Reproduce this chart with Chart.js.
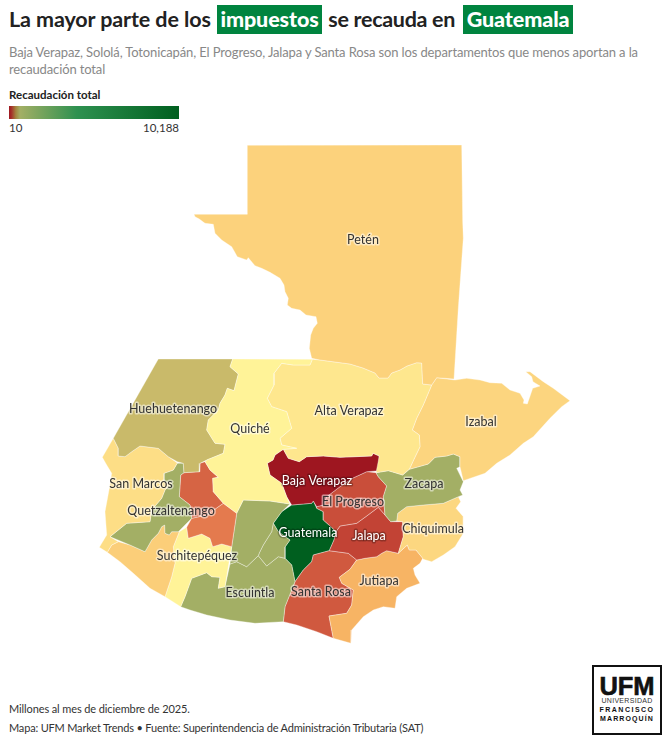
<!DOCTYPE html>
<html lang="es">
<head>
<meta charset="utf-8">
<title>Recaudación por departamento</title>
<script src="https://cdn.jsdelivr.net/npm/chart.js@4"></script>
<style>
html, body { margin: 0; padding: 0; background: #fff; }
body { position: relative; width: 670px; height: 744px; overflow: hidden; font-family: Lato, "Noto Sans", sans-serif; color: #333; }
.txt { position: absolute; white-space: nowrap; }
#title { left: 9px; top: 5px; height: 29px; line-height: 29px; font-size: 21.5px; font-weight: 700; color: #222; letter-spacing: -0.1px; }
#title b { background: #00843f; color: #fff; padding: 0 3.5px; margin: 0 1px 0 3px; display: inline-block; }
#title b:first-of-type { margin-left: 1px; }
#title span { letter-spacing: -0.3px; }
#sub1, #sub2 { left: 9px; font-size: 13px; color: #888; letter-spacing: -0.13px; }
#sub1 { top: 44px; } #sub2 { top: 61px; }
#legTitle { left: 9px; top: 88px; font-size: 11.5px; font-weight: 700; color: #222; }
#legBar { position: absolute; left: 9px; top: 106px; width: 170px; height: 13px; }
#legMin { left: 9px; top: 121px; font-size: 11.5px; }
#legMax { right: 491px; top: 121px; font-size: 11.5px; }
#note1 { left: 9px; top: 702px; font-size: 11px; letter-spacing: -0.11px; }
#note2 { left: 9px; top: 721px; font-size: 11px; letter-spacing: -0.18px; }
#map { position: absolute; left: 0; top: 130px; }
#logo { position: absolute; left: 592px; top: 665px; width: 66px; height: 66px; border: 2px solid #111; background: #fff; text-align: center; color: #111; font-family: "Liberation Sans", sans-serif; }
#logo .u { font-size: 25.5px; font-weight: 700; line-height: 20px; margin-top: 9px; -webkit-text-stroke: 0.6px #111; }
#logo .l { font-size: 7px; line-height: 9px; letter-spacing: 0.3px; color: #333; }
#logo .f { font-size: 7px; line-height: 9px; font-weight: 700; letter-spacing: 1.5px; }
#logo .m { font-size: 7px; line-height: 9px; font-weight: 700; letter-spacing: 1.1px; }
</style>
</head>
<body>
<div id="title" class="txt">La mayor parte de los <b>impuestos</b> <span>se recauda en</span> <b>Guatemala</b></div>
<div id="sub1" class="txt">Baja Verapaz, Sololá, Totonicapán, El Progreso, Jalapa y Santa Rosa son los departamentos que menos aportan a la</div>
<div id="sub2" class="txt">recaudación total</div>
<div id="legTitle" class="txt">Recaudación total</div>
<div id="legBar"></div>
<div id="legMin" class="txt">10</div>
<div id="legMax" class="txt">10,188</div>
<canvas id="map" width="670" height="530"></canvas>
<div id="note1" class="txt">Millones al mes de diciembre de 2025.</div>
<div id="note2" class="txt">Mapa: UFM Market Trends • Fuente: Superintendencia de Administración Tributaria (SAT)</div>
<div id="logo"><div class="u">UFM</div><div class="l">UNIVERSIDAD</div><div class="f">FRANCISCO</div><div class="m">MARROQUÍN</div></div>

<script>
// departamentos y recaudacion (valores estimados del color del mapa)
var departamentos = ["Petén","Quiché","Alta Verapaz","Izabal","Huehuetenango","San Marcos","Quetzaltenango","Totonicapán","Sololá","Retalhuleu","Suchitepéquez","Chimaltenango","Sacatepéquez","Escuintla","Zacapa","Chiquimula","Baja Verapaz","El Progreso","Jalapa","Jutiapa","Santa Rosa","Guatemala"];
var recaudacion = [200,310,270,210,420,240,660,70,90,190,310,660,660,660,660,215,10,50,40,130,60,10188];

// escala de color: valor -> color
var escalaValores = [10,40,90,130,200,310,420,660,4080,10188];
var escalaColores = ["#9e1620","#c24335","#e47a4e","#f7b464","#fcd27c","#fff398","#c9ba6a","#a3af65","#2e9150","#005f1f"];

// barra de la leyenda
var leyendaPos = [0,1.5,4,6.5,40,100];
var leyendaColores = ["#9e1620","#a5342a","#a3853f","#a3af65","#2e9150","#005f1f"];

// contornos, en unidades del mapa
var peten = [[247.3,145.3],[461.7,145],[462.7,221.7],[463.3,238.3],[458.3,308.3],[454,379],[436.7,377.7],[431.7,385],[422.7,384],[421.7,363],[416.7,362.7],[407,366],[400,370],[391.7,373],[388,378],[379,378],[375,373],[363,368],[350,364],[320,360],[311.7,358.3],[309.3,348.3],[310.7,335],[313.3,328.3],[317.3,323.3],[316,316.7],[306,315],[300,310],[291.7,308.3],[287.3,305],[288.3,298.3],[285,291.7],[284,285],[280,278.3],[270,272.3],[261.7,268.3],[255,265.7],[251,261],[248.3,257.7],[246.7,260],[237.3,256.7],[231.7,246.7],[221.7,240],[215,233.3],[213.3,224.3],[205,223.3],[199.3,219],[195,216.7],[194,214.3],[247.3,214.3]];
var izabal = [[436.7,377.7],[455,380],[466.7,378.3],[480,380],[490,382.7],[501.7,383.3],[510,390],[520,393.3],[524,400],[523.3,403.3],[527.3,404],[529.3,398.3],[532.7,388.3],[540,386],[533,381.7],[531.7,376.7],[525.7,371.7],[530,371.7],[543.3,381.7],[553.3,388.3],[570,400.7],[561.7,406.7],[550,418.3],[533.3,436.7],[523.3,443.3],[510,455],[496.7,463.3],[485,473.3],[463.3,480.7],[460,466.7],[460,456.7],[453.3,454],[446.7,456],[435,457.3],[428.3,464],[409.3,469.3],[416,455],[420,446.7],[419.3,435],[412.3,430],[416.7,418.3],[423.3,405],[431.7,385]];
var altaVerapaz = [[312.3,359.3],[320,360],[350,364],[363,368],[375,373],[379,378],[388,378],[391.7,373],[400,370],[407,366],[416.7,362.7],[421.7,363],[422.7,384],[431.7,385],[423.3,405],[416.7,418.3],[412.3,430],[419.3,435],[420,446.7],[416,455],[409.3,469.3],[402.7,475],[388.3,470.7],[376,472.7],[379.3,456],[373,453.3],[371.7,456],[340,457.3],[323.3,456],[306.7,456.7],[299.3,461.7],[288.3,458.3],[283.3,449.3],[296.7,448.3],[281.7,445],[280,438.3],[291.7,428.3],[286.7,411.7],[271.7,406.7],[267.3,398.3],[274,385],[274,373.3],[281.7,363.3],[293.3,365],[310,365]];
var quiche = [[232.7,359],[312.3,359.3],[310,365],[293.3,365],[281.7,363.3],[274,373.3],[274,385],[267.3,398.3],[271.7,406.7],[286.7,411.7],[291.7,428.3],[280,438.3],[281.7,445],[296.7,448.3],[283.3,449.3],[275,455],[273,460],[267.3,463.3],[270,475],[281.7,483.3],[286.7,496.7],[290,504],[270,501],[243.3,500],[236.7,513.3],[223.3,503.3],[213.3,491.7],[212.7,478.3],[218.3,477.3],[210,470],[205,461.7],[206.7,460],[223.3,453.3],[225,444.3],[215,443.3],[206.7,430],[208.3,420],[218.3,410],[220,403.3],[225,395],[227.3,388.3],[234,390.7],[238.3,374],[230,366.7]];
var huehuetenango = [[158.3,359],[232.7,359],[230,366.7],[238.3,374],[234,390.7],[227.3,388.3],[225,395],[220,403.3],[218.3,410],[208.3,420],[206.7,430],[215,443.3],[225,444.3],[223.3,453.3],[206.7,460],[200,463.3],[199.3,471.7],[184,472.7],[183.3,463.3],[177.3,461.7],[168.3,456.7],[158.3,448.3],[140,446],[131.7,451.7],[125,456.7],[118.3,456],[118.3,448.3],[113.3,438.3]];
var sanMarcos = [[113.3,438.3],[118.3,448.3],[118.3,456],[125,456.7],[131.7,451.7],[140,446],[158.3,448.3],[168.3,456.7],[177.3,463],[173.3,470],[164,473.3],[164,481.7],[171.7,483.3],[165,490],[161.7,498.3],[151.7,510],[150,521.7],[126.7,523.3],[110,536.7],[118.3,541.7],[111.7,545],[107.3,552.3],[99.3,547.3],[106.7,535],[105,511.7],[109,490],[111.7,473.3],[106.7,465],[102.3,457.3]];
var quetzaltenango = [[177.3,463.3],[183.3,463.3],[184,472.7],[180.7,475],[179.3,496.7],[190,505],[191.7,518.3],[178.3,531.7],[171.7,531.7],[169.3,535],[165,533.3],[164.7,525],[161.7,526.7],[158.3,533.3],[151.7,540],[145,551.7],[130,545],[110,536.7],[126.7,523.3],[150,521.7],[151.7,510],[161.7,498.3],[165,490],[171.7,483.3],[164,481.7],[164,473.3],[173.3,470]];
var totonicapan = [[205,461.7],[210,470],[218.3,477.3],[212.7,478.3],[213.3,491.7],[223.3,503.3],[206.7,515],[191.7,518.3],[190,505],[179.3,496.7],[180.7,475],[184,472.7],[199.3,471.7],[200,463.3]];
var solola = [[223.3,503.3],[236.7,513.3],[231.7,546.7],[221.7,544],[212.7,546.7],[210,538.3],[201.7,534],[188.3,538.3],[186.7,527.3],[191.7,518.3],[206.7,515]];
var retalhuleu = [[118.3,541.7],[130,545],[145,551.7],[151.7,540],[158.3,533.3],[161.7,526.7],[164.7,525],[165,533.3],[169.3,535],[171.7,531.7],[179.3,531.7],[173.3,546.7],[175,563.3],[171.7,576.7],[165,596.7],[150,588.3],[133.3,573.3],[120,561.7],[107.3,552.3],[111.7,545]];
var suchitepequez = [[179.3,531.7],[186.7,527.3],[188.3,538.3],[201.7,534],[210,538.3],[212.7,546.7],[221.7,544],[231.7,546.7],[228.3,566.7],[225,586.7],[218.3,588.3],[220,577.3],[211.7,576.7],[206.7,572.7],[191.7,578.3],[190,583],[185,596.7],[180.7,606.7],[165,596.7],[171.7,576.7],[175,563.3],[173.3,546.7]];
var chimaltenango = [[243.3,500],[270,501],[290,504],[281.7,511.7],[273.3,523.3],[271.7,531.7],[263.3,545],[259.3,553],[258.3,555.7],[246.7,566.7],[236.7,561.7],[230,564],[231.7,546.7],[236.7,513.3]];
var sacatepequez = [[271.7,531.7],[273.3,523.3],[278.3,531.7],[290,540],[285,547],[285,558.3],[278.3,556.7],[266.7,566],[258.3,555.7],[259.3,553],[263.3,545]];
var escuintla = [[230,564],[236.7,561.7],[246.7,566.7],[258.3,555.7],[266.7,566],[278.3,556.7],[285,558.3],[291.7,565],[295,581.7],[291.7,590],[285,606.7],[283.3,621.7],[255,623.3],[230,620],[206.7,615],[190,610],[180.7,606.7],[185,596.7],[190,583],[191.7,578.3],[206.7,572.7],[211.7,576.7],[220,577.3],[218.3,588.3],[225,586.7]];
var zacapa = [[376,472.7],[388.3,470.7],[402.7,475],[409.3,469.3],[428.3,464],[435,457.3],[446.7,456],[453.3,454],[460,456.7],[460,466.7],[456.7,468.3],[463.3,481.7],[460,490],[462.7,495],[458.3,496.7],[443.3,503.3],[423.3,505],[406.7,506.7],[397.7,513.3],[396.7,521],[390.7,521.7],[385,515],[383.3,496.7],[386.7,486],[378.3,476.7]];
var chiquimula = [[396.7,521],[397.7,513.3],[406.7,506.7],[423.3,505],[443.3,503.3],[458.3,496.7],[460.7,501.7],[456,508.3],[463.3,516.7],[463.3,533.3],[455,546.7],[443.3,555],[431.7,561.7],[423.3,559.3],[422.7,558.3],[416,550],[409.3,550],[407.3,545],[398.3,553.3],[403.3,536.7],[402.7,521.7]];
var bajaVerapaz = [[283.3,449.3],[288.3,458.3],[299.3,461.7],[306.7,456.7],[323.3,456],[340,457.3],[371.7,456],[373,453.3],[379.3,456],[379.3,470.7],[366.7,471.7],[353,478],[340,486.7],[326.7,496.7],[323.3,505],[316.7,506.7],[313.3,501],[311.7,503.3],[291.7,505],[286.7,496.7],[281.7,483.3],[270,475],[267.3,463.3],[273,460],[275,455]];
var elProgreso = [[323.3,505],[326.7,496.7],[340,486.7],[353,478],[366.7,471.7],[376,472.7],[378.3,476.7],[386.7,486],[383.3,496.7],[385,515],[378.3,507.3],[366.7,516],[356.7,523.3],[340,526],[336,531.7],[332.7,528.3],[323.3,520],[323.3,511.7],[316.7,508.3],[316.7,506.7]];
var jalapa = [[378.3,507.3],[385,515],[390.7,521.7],[402.7,521.7],[403.3,536.7],[398.3,553.3],[386.7,550.7],[381.7,553.3],[376.7,556.7],[365,558.3],[356.7,560],[348.3,553.3],[329.3,550.7],[334,540],[336,531.7],[340,526],[356.7,523.3],[366.7,516]];
var jutiapa = [[356.7,560],[365,558.3],[376.7,556.7],[381.7,553.3],[386.7,550.7],[398.3,553.3],[407.3,545],[409.3,550],[416,550],[422.7,558.3],[420,563.3],[413.3,568.3],[415,575],[420,583.3],[406.7,588.3],[396.7,596.7],[395,608.3],[383.3,606.7],[373.3,610],[363.3,616.7],[351.7,630],[351,643.3],[333.3,638.3],[329,616],[346.7,613.3],[351.7,605],[353.3,590],[341.7,583.3],[339.3,577.3],[350,569.3]];
var santaRosa = [[329.3,550.7],[348.3,553.3],[356.7,560],[350,569.3],[339.3,577.3],[341.7,583.3],[353.3,590],[351.7,605],[346.7,613.3],[329,616],[333.3,638.3],[316.7,631.7],[296.7,625],[283.3,621.7],[285,606.7],[291.7,590],[295,581.7],[303.3,570],[311.7,561.7],[313.3,555]];
var guatemala = [[273.3,523.3],[281.7,511.7],[291.7,505],[311.7,503.3],[313.3,501],[316.7,508.3],[323.3,511.7],[323.3,520],[332.7,528.3],[336,533.3],[334,540],[329.3,550.7],[313.3,555],[311.7,561.7],[303.3,570],[295,581.7],[291.7,565],[285,558.3],[285,547],[290,540],[278.3,531.7]];

var contornos = [peten,quiche,altaVerapaz,izabal,huehuetenango,sanMarcos,quetzaltenango,totonicapan,solola,retalhuleu,suchitepequez,chimaltenango,sacatepequez,escuintla,zacapa,chiquimula,bajaVerapaz,elProgreso,jalapa,jutiapa,santaRosa,guatemala];

// etiquetas del mapa
var etiquetas = ["Petén","Alta Verapaz","Izabal","Huehuetenango","Quiché","Baja Verapaz","San Marcos","Zacapa","El Progreso","Quetzaltenango","Chiquimula","Guatemala","Jalapa","Suchitepéquez","Jutiapa","Santa Rosa","Escuintla"];
var etiquetasX = [363,349,481,173,250,317,141,424,353,171,433,308,369,197,379,321,250];
var etiquetasY = [240,411,422,409,429,481,484,484,502,511,529,533,536,556,581,592,593];
var etiquetasClaras = ["Baja Verapaz","Guatemala","Jalapa"];

function hexRgb(h) {
    return [parseInt(h.substr(1,2),16), parseInt(h.substr(3,2),16), parseInt(h.substr(5,2),16)];
}

function colorDe(valor) {
    for (var i = 1; i < escalaValores.length; i++) {
        if (valor <= escalaValores[i]) {
            var t = (valor - escalaValores[i-1]) / (escalaValores[i] - escalaValores[i-1]);
            var a = hexRgb(escalaColores[i-1]), b = hexRgb(escalaColores[i]);
            return 'rgb(' + Math.round(a[0]+(b[0]-a[0])*t) + ',' + Math.round(a[1]+(b[1]-a[1])*t) + ',' + Math.round(a[2]+(b[2]-a[2])*t) + ')';
        }
    }
    return escalaColores[escalaColores.length-1];
}

var paradas = leyendaPos.map(function(p, i) {
    return leyendaColores[i] + ' ' + p + '%';
});
document.getElementById('legBar').style.background = 'linear-gradient(to right,' + paradas.join(',') + ')';

var datasets = departamentos.map(function(nombre, i) {
    var c = colorDe(recaudacion[i]);
    var puntos = contornos[i].concat([contornos[i][0]]).map(function(p) { return {x: p[0], y: p[1]}; });
    return {
        label: nombre,
        data: puntos,
        showLine: true,
        fill: 'shape',
        backgroundColor: c,
        borderColor: 'rgba(255,255,255,0.35)',
        borderWidth: 1,
        pointRadius: 0,
        tension: 0
    };
});

var etiquetasPlugin = {
    id: 'etiquetas',
    afterDatasetsDraw: function(chart) {
        var ctx = chart.ctx;
        ctx.save();
        ctx.font = '12.5px Lato, "Noto Sans", sans-serif';
        ctx.textAlign = 'center';
        ctx.textBaseline = 'middle';
        ctx.lineJoin = 'round';
        etiquetas.forEach(function(txt, i) {
            var x = chart.scales.x.getPixelForValue(etiquetasX[i]);
            var y = chart.scales.y.getPixelForValue(etiquetasY[i]);
            var clara = etiquetasClaras.indexOf(txt) >= 0;
            ctx.lineWidth = 3;
            ctx.strokeStyle = clara ? 'rgba(0,0,0,0.25)' : 'rgba(255,255,255,0.5)';
            ctx.strokeText(txt, x, y);
            ctx.fillStyle = clara ? '#fff' : '#333';
            ctx.fillText(txt, x, y);
        });
        ctx.restore();
    }
};

var mapChart = new Chart("map", {
    type: 'scatter',
    data: { datasets: datasets },
    options: {
        responsive: false,
        animation: false,
        layout: { padding: 0 },
        plugins: { legend: { display: false }, tooltip: { enabled: false }, title: { display: false } },
        scales: {
            x: { type: 'linear', display: false, min: 0, max: 670 },
            y: { type: 'linear', display: false, min: 130, max: 660, reverse: true }
        }
    },
    plugins: [etiquetasPlugin]
});
</script>
</body>
</html>
